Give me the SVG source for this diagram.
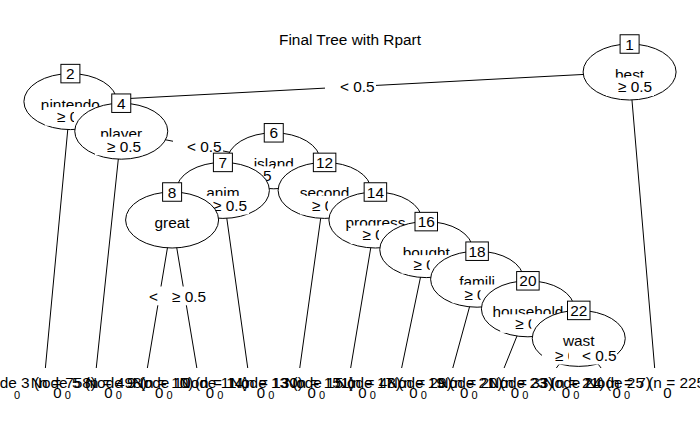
<svg xmlns="http://www.w3.org/2000/svg" width="700" height="432" viewBox="0 0 700 432">
<style>
text{font-family:"Liberation Sans",Arial,sans-serif;font-size:15.4px;fill:#000}
.c{text-anchor:middle}
.e{fill:#fff;stroke:#000;stroke-width:1}
.b{fill:#fff;stroke:#000;stroke-width:1}
.w{fill:#fff;stroke:none}
#edges line{stroke:#000;stroke-width:1}
.ax{font-size:15px}
.bl{font-size:11px}
</style>
<rect width="700" height="432" fill="#fff"/>
<text class="c" x="350" y="45">Final Tree with Rpart</text>
<g id="edges">
<line x1="629.6" y1="72" x2="70.4" y2="101.6"/>
<line x1="629.6" y1="72" x2="654.66" y2="368"/>
<line x1="70.4" y1="101.6" x2="45.38" y2="368"/>
<line x1="70.4" y1="101.6" x2="121.25" y2="131.2"/>
<line x1="121.25" y1="131.2" x2="96.25" y2="368"/>
<line x1="121.25" y1="131.2" x2="273.75" y2="160.8"/>
<line x1="273.75" y1="160.8" x2="222.9" y2="190.4"/>
<line x1="273.75" y1="160.8" x2="324.6" y2="190.4"/>
<line x1="222.9" y1="190.4" x2="172.1" y2="220"/>
<line x1="222.9" y1="190.4" x2="247.74" y2="368"/>
<line x1="172.1" y1="220" x2="147.37" y2="368"/>
<line x1="172.1" y1="220" x2="196.83" y2="368"/>
<line x1="324.6" y1="190.4" x2="299.76" y2="368"/>
<line x1="324.6" y1="190.4" x2="375.4" y2="220"/>
<line x1="375.4" y1="220" x2="350.67" y2="368"/>
<line x1="375.4" y1="220" x2="426.25" y2="249.6"/>
<line x1="426.25" y1="249.6" x2="401.63" y2="368"/>
<line x1="426.25" y1="249.6" x2="477.1" y2="279.2"/>
<line x1="477.1" y1="279.2" x2="452.79" y2="368"/>
<line x1="477.1" y1="279.2" x2="527.9" y2="308.8"/>
<line x1="527.9" y1="308.8" x2="504.1" y2="368"/>
<line x1="527.9" y1="308.8" x2="578.75" y2="338.4"/>
<line x1="578.75" y1="338.4" x2="556.33" y2="368"/>
<line x1="578.75" y1="338.4" x2="601.08" y2="368"/>
</g>
<g id="node1">
<ellipse class="e" cx="629.6" cy="72" rx="46.5" ry="28"/>
<text class="c" x="629.6" y="80">best</text>
<rect class="b" x="620.1" y="34.75" width="19" height="18.5"/>
<text class="c" x="629.6" y="49.5">1</text>
<rect class="w" x="325" y="77.5" width="51" height="18.6"/>
<text x="340" y="92.3">&lt; 0.5</text>
<rect class="w" x="606" y="77.5" width="48" height="18.6"/>
<text x="618" y="92.3">≥ 0.5</text>
</g>
<g id="node2">
<ellipse class="e" cx="70.4" cy="101.6" rx="46.5" ry="28"/>
<text class="c" x="70.4" y="109.6">nintendo</text>
<rect class="b" x="60.9" y="64.35" width="19" height="18.5"/>
<text class="c" x="70.4" y="79.1">2</text>
<rect class="w" x="45" y="107.1" width="48" height="18.6"/>
<text x="57" y="121.9">≥ 0.5</text>
<rect class="w" x="74" y="107.1" width="48" height="18.6"/>
<text x="86" y="121.9">&lt; 0.5</text>
</g>
<g id="node4">
<ellipse class="e" cx="121.25" cy="131.2" rx="46.5" ry="28"/>
<text class="c" x="121.25" y="139.2">player</text>
<rect class="b" x="111.75" y="93.95" width="19" height="18.5"/>
<text class="c" x="121.25" y="108.7">4</text>
<rect class="w" x="95" y="136.7" width="48" height="18.6"/>
<text x="107" y="151.5">≥ 0.5</text>
<rect class="w" x="173" y="136.7" width="50" height="18.6"/>
<text x="187" y="151.5">&lt; 0.5</text>
</g>
<g id="node6">
<ellipse class="e" cx="273.75" cy="160.8" rx="46.5" ry="28"/>
<text class="c" x="273.75" y="168.8">island</text>
<rect class="b" x="264.25" y="123.55" width="19" height="18.5"/>
<text class="c" x="273.75" y="138.3">6</text>
<rect class="w" x="223" y="166.3" width="50" height="18.6"/>
<text x="237" y="181.1">&lt; 0.5</text>
<rect class="w" x="275" y="166.3" width="50" height="18.6"/>
<text x="289" y="181.1">≥ 0.5</text>
</g>
<g id="node7">
<ellipse class="e" cx="222.9" cy="190.4" rx="46.5" ry="28"/>
<text class="c" x="222.9" y="198.4">anim</text>
<rect class="b" x="213.4" y="153.15" width="19" height="18.5"/>
<text class="c" x="222.9" y="167.9">7</text>
<rect class="w" x="173.5" y="195.9" width="50" height="18.6"/>
<text x="187.5" y="210.7">&lt; 0.5</text>
<rect class="w" x="201" y="195.9" width="48" height="18.6"/>
<text x="213" y="210.7">≥ 0.5</text>
</g>
<g id="node8">
<ellipse class="e" cx="172.1" cy="220" rx="46.5" ry="28"/>
<text class="c" x="172.1" y="228">great</text>
<rect class="b" x="162.6" y="182.75" width="19" height="18.5"/>
<text class="c" x="172.1" y="197.5">8</text>
<rect class="w" x="135" y="286.7" width="50" height="18.6"/>
<text x="149" y="301.5">&lt; 0.5</text>
<rect class="w" x="159" y="286.7" width="50" height="18.6"/>
<text x="172" y="301.5">≥ 0.5</text>
</g>
<g id="node12">
<ellipse class="e" cx="324.6" cy="190.4" rx="46.5" ry="28"/>
<text class="c" x="324.6" y="198.4">second</text>
<rect class="b" x="313.35" y="153.15" width="22.5" height="18.5"/>
<text class="c" x="324.6" y="167.9">12</text>
<rect class="w" x="300" y="195.9" width="48" height="18.6"/>
<text x="312" y="210.7">≥ 0.5</text>
<rect class="w" x="328" y="195.9" width="48" height="18.6"/>
<text x="340" y="210.7">&lt; 0.5</text>
</g>
<g id="node14">
<ellipse class="e" cx="375.4" cy="220" rx="46.5" ry="28"/>
<text class="c" x="375.4" y="228">progress</text>
<rect class="b" x="364.15" y="182.75" width="22.5" height="18.5"/>
<text class="c" x="375.4" y="197.5">14</text>
<rect class="w" x="350.5" y="225.5" width="48" height="18.6"/>
<text x="362.5" y="240.3">≥ 0.5</text>
<rect class="w" x="379" y="225.5" width="48" height="18.6"/>
<text x="391" y="240.3">&lt; 0.5</text>
</g>
<g id="node16">
<ellipse class="e" cx="426.25" cy="249.6" rx="46.5" ry="28"/>
<text class="c" x="426.25" y="257.6">bought</text>
<rect class="b" x="415" y="212.35" width="22.5" height="18.5"/>
<text class="c" x="426.25" y="227.1">16</text>
<rect class="w" x="401.5" y="255.1" width="48" height="18.6"/>
<text x="413.5" y="269.9">≥ 0.5</text>
<rect class="w" x="429.7" y="255.1" width="48" height="18.6"/>
<text x="441.7" y="269.9">&lt; 0.5</text>
</g>
<g id="node18">
<ellipse class="e" cx="477.1" cy="279.2" rx="46.5" ry="28"/>
<text class="c" x="477.1" y="287.2">famili</text>
<rect class="b" x="465.85" y="241.95" width="22.5" height="18.5"/>
<text class="c" x="477.1" y="256.7">18</text>
<rect class="w" x="452.4" y="284.7" width="48" height="18.6"/>
<text x="464.4" y="299.5">≥ 0.5</text>
<rect class="w" x="480.5" y="284.7" width="48" height="18.6"/>
<text x="492.5" y="299.5">&lt; 0.5</text>
</g>
<g id="node20">
<ellipse class="e" cx="527.9" cy="308.8" rx="46.5" ry="28"/>
<text class="c" x="527.9" y="316.8">household</text>
<rect class="b" x="516.65" y="271.55" width="22.5" height="18.5"/>
<text class="c" x="527.9" y="286.3">20</text>
<rect class="w" x="500.2" y="314.3" width="51" height="18.6"/>
<text x="515.2" y="329.1">≥ 0.5</text>
<rect class="w" x="531.3" y="314.3" width="48" height="18.6"/>
<text x="543.3" y="329.1">&lt; 0.5</text>
</g>
<g id="node22">
<ellipse class="e" cx="578.75" cy="338.4" rx="46.5" ry="28"/>
<text class="c" x="578.75" y="346.4">wast</text>
<rect class="b" x="567.5" y="301.15" width="22.5" height="18.5"/>
<text class="c" x="578.75" y="315.9">22</text>
<rect class="w" x="542" y="345.9" width="49" height="18.6"/>
<text x="555" y="360.7">≥ 0.5</text>
<rect class="w" x="569" y="345.9" width="48" height="18.6"/>
<text x="582" y="360.7">&lt; 0.5</text>
</g>
<g id="node3"><text class="c" x="38" y="388">Node 3 (n = 758)</text><text class="c ax" x="57.5" y="398">0</text><text class="c bl" x="17" y="399">0</text></g>
<g id="node5"><text class="c" x="88.8" y="388">Node 5 (n = 498)</text><text class="c ax" x="108.3" y="398">0</text><text class="c bl" x="67.8" y="399">0</text></g>
<g id="node9"><text class="c" x="139.7" y="388">Node 9 (n = 10)</text><text class="c ax" x="159.2" y="398">0</text><text class="c bl" x="118.7" y="399">0</text></g>
<g id="node10"><text class="c" x="190.5" y="388">Node 10 (n = 14)</text><text class="c ax" x="210" y="398">0</text><text class="c bl" x="169.5" y="399">0</text></g>
<g id="node11"><text class="c" x="241.3" y="388">Node 11 (n = 130)</text><text class="c ax" x="260.8" y="398">0</text><text class="c bl" x="220.3" y="399">0</text></g>
<g id="node13"><text class="c" x="292.2" y="388">Node 13 (n = 151)</text><text class="c ax" x="311.7" y="398">0</text><text class="c bl" x="271.2" y="399">0</text></g>
<g id="node15"><text class="c" x="343" y="388">Node 15 (n = 48)</text><text class="c ax" x="362.5" y="398">0</text><text class="c bl" x="322" y="399">0</text></g>
<g id="node17"><text class="c" x="393.8" y="388">Node 17 (n = 29)</text><text class="c ax" x="413.3" y="398">0</text><text class="c bl" x="372.8" y="399">0</text></g>
<g id="node19"><text class="c" x="444.7" y="388">Node 19 (n = 20)</text><text class="c ax" x="464.2" y="398">0</text><text class="c bl" x="423.7" y="399">0</text></g>
<g id="node21"><text class="c" x="495.5" y="388">Node 21 (n = 33)</text><text class="c ax" x="515" y="398">0</text><text class="c bl" x="474.5" y="399">0</text></g>
<g id="node23"><text class="c" x="546.3" y="388">Node 23 (n = 21)</text><text class="c ax" x="565.8" y="398">0</text><text class="c bl" x="525.3" y="399">0</text></g>
<g id="node24"><text class="c" x="597.2" y="388">Node 24 (n = 7)</text><text class="c ax" x="616.7" y="398">0</text><text class="c bl" x="576.2" y="399">0</text></g>
<g id="node25"><text class="c" x="648" y="388">Node 25 (n = 225)</text><text class="c ax" x="667.5" y="398">0</text><text class="c bl" x="627" y="399">0</text></g>
</svg>
